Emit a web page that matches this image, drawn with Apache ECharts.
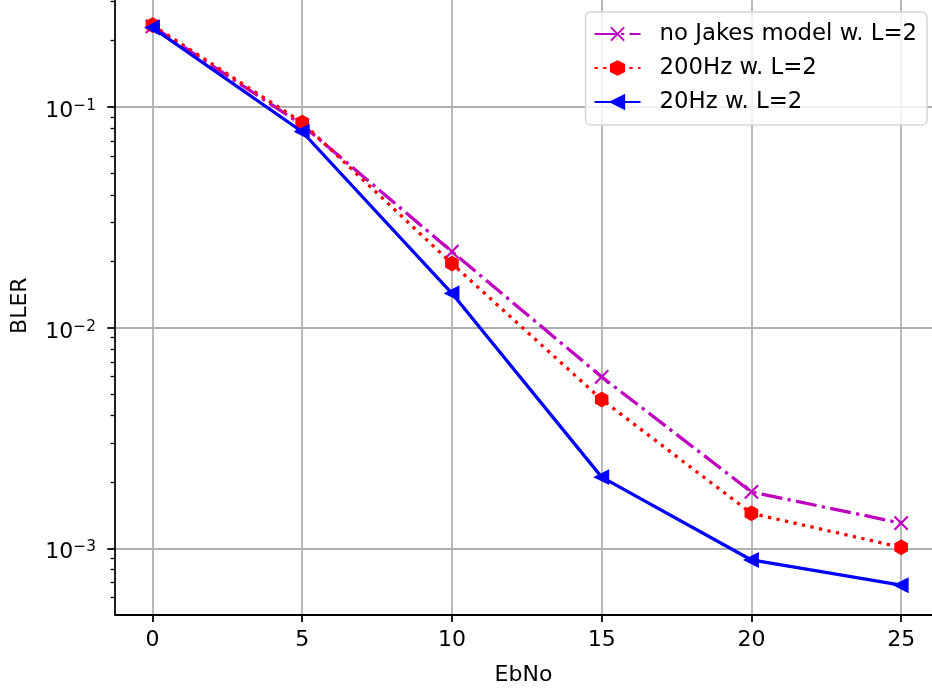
<!DOCTYPE html>
<html>
<head>
<meta charset="utf-8">
<script src="https://cdn.jsdelivr.net/npm/echarts@6/dist/echarts.min.js"></script>
<style>
  html, body { margin: 0; padding: 0; background: #fff; }
  #chart { width: 932px; height: 690px; }
</style>
</head>
<body>
<div id="chart"></div>
<script>
// EbNo sample points (dB)
const ebno = [0, 5, 10, 15, 20, 25];

// Block error rates per configuration
const noJakesL2 = [0.232, 0.083, 0.0221, 0.00598, 0.0018, 0.0013];
const hz200L2   = [0.235, 0.085, 0.0195, 0.00472, 0.00144, 0.00101];
const hz20L2    = [0.229, 0.0772, 0.0143, 0.0021, 0.000885, 0.00068];

const seriesNames = ['no Jakes model w. L=2', '200Hz w. L=2', '20Hz w. L=2'];

// Axis ticks
const xTicks = [0, 5, 10, 15, 20, 25];
const yMajorTicks = [1e-3, 1e-2, 1e-1];
const yMinorTicks = [6e-4, 7e-4, 8e-4, 9e-4,
  2e-3, 3e-3, 4e-3, 5e-3, 6e-3, 7e-3, 8e-3, 9e-3,
  2e-2, 3e-2, 4e-2, 5e-2, 6e-2, 7e-2, 8e-2, 9e-2,
  2e-1, 3e-1];

const FONT = 'DejaVu Sans';
const FS = 22;
const LW = 3.3;

const pair = (ys) => ebno.map((x, i) => [x, ys[i]]);

// Marker shapes
const HEX = 'path://M0,-1 L0.866,-0.5 L0.866,0.5 L0,1 L-0.866,0.5 L-0.866,-0.5 Z';
const CROSS = 'path://M0,0 L10,10 M10,0 L0,10';

const chart = echarts.init(document.getElementById('chart'), null, { renderer: 'canvas' });

const axisLineStyle = { color: '#000', width: 1.76 };
const gridLine = { show: true, lineStyle: { color: '#b0b0b0', width: 1.76 } };

chart.setOption({
  animation: false,
  backgroundColor: '#fff',
  textStyle: { fontFamily: FONT },
  grid: { left: 115, top: -3, right: 0, height: 617.3, containLabel: false, outerBoundsMode: 'none' },
  legend: {
    orient: 'vertical',
    right: 5,
    top: 12,
    padding: [9, 10, 10, 8],
    itemWidth: 46,
    itemHeight: 16.5,
    itemGap: 8,
    backgroundColor: 'rgba(255,255,255,0.8)',
    borderColor: '#d6d6d6',
    borderWidth: 1.5,
    borderRadius: 5,
    textStyle: { fontFamily: FONT, fontSize: 22.8, color: '#000', lineHeight: 26, padding: [0, 0, 0, 14] },
    data: seriesNames
  },
  xAxis: {
    type: 'value',
    min: -1.25,
    max: 26.03,
    name: 'EbNo',
    nameLocation: 'middle',
    nameGap: 50,
    nameTextStyle: { fontFamily: FONT, fontSize: FS, color: '#000' },
    axisLine: { show: true, onZero: false, lineStyle: axisLineStyle },
    axisTick: { show: true, length: 7.7, lineStyle: { color: '#000', width: 1.76 }, customValues: xTicks },
    axisLabel: { margin: 15.4, fontFamily: FONT, fontSize: FS, color: '#000', customValues: xTicks },
    splitLine: gridLine
  },
  yAxis: [
    {
      type: 'log',
      logBase: 10,
      min: 5.02e-4,
      max: 0.315,
      name: 'BLER',
      nameLocation: 'middle',
      nameGap: 84,
      nameTextStyle: { fontFamily: FONT, fontSize: FS, color: '#000' },
      axisLine: { show: true, onZero: false, lineStyle: axisLineStyle },
      axisTick: { show: true, length: 7.7, lineStyle: { color: '#000', width: 1.76 }, customValues: yMajorTicks },
      axisLabel: {
        margin: 19,
        customValues: yMajorTicks,
        padding: [9, 0, 0, 0],
        formatter: (v) => '{b|10}{s|\u2212' + Math.round(-Math.log10(v)) + '}',
        rich: {
          b: { fontFamily: FONT, fontSize: FS, color: '#000', lineHeight: 26 },
          s: { fontFamily: FONT, fontSize: 15.4, color: '#000', lineHeight: 16, verticalAlign: 'top' }
        }
      },
      splitLine: gridLine
    },
    {
      // minor ticks at 2..9 × 10^k
      type: 'log',
      logBase: 10,
      min: 5.02e-4,
      max: 0.315,
      position: 'left',
      axisLine: { show: false, onZero: false },
      axisTick: { show: true, length: 4.4, lineStyle: { color: '#000', width: 1.32 }, customValues: yMinorTicks },
      axisLabel: { show: false },
      splitLine: { show: false }
    }
  ],
  series: [
    {
      name: seriesNames[0],
      type: 'line',
      data: pair(noJakesL2),
      symbol: CROSS,
      symbolSize: 13.2,
      itemStyle: { color: '#bf00bf', borderColor: '#bf00bf', borderWidth: 2.2 },
      lineStyle: { color: '#bf00bf', width: LW, type: [21.1, 5.3, 3.3, 5.3], cap: 'butt' },
      z: 3
    },
    {
      name: seriesNames[1],
      type: 'line',
      data: pair(hz200L2),
      symbol: HEX,
      symbolSize: [12.2, 14],
      itemStyle: { color: '#ff0000', borderColor: '#ff0000', borderWidth: 1.5 },
      lineStyle: { color: '#ff0000', width: LW, type: [3.3, 5.4], cap: 'butt' },
      z: 4
    },
    {
      name: seriesNames[2],
      type: 'line',
      data: pair(hz20L2),
      symbol: 'triangle',
      symbolRotate: 90,
      symbolSize: 13.5,
      itemStyle: { color: '#0000ff', borderColor: '#0000ff', borderWidth: 1.5 },
      lineStyle: { color: '#0000ff', width: LW },
      z: 5
    }
  ]
});
</script>
</body>
</html>
